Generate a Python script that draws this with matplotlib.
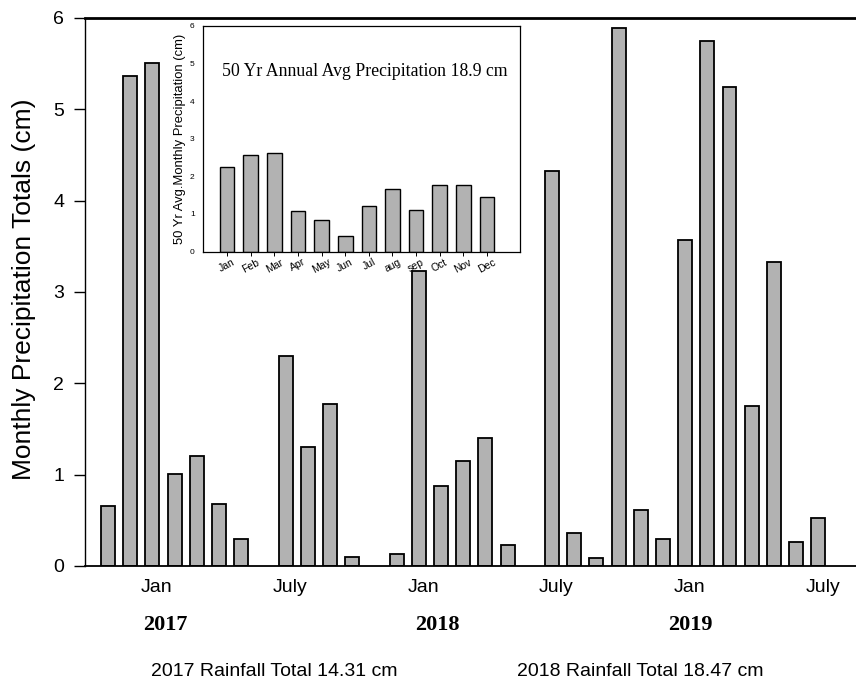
import numpy as np
import matplotlib.pyplot as plt

# Monthly totals, Nov 2016 .. Jul 2019 (NaN = no bar drawn)
month_index = np.arange(33)
monthly_cm = [0.66, 5.36, 5.51, 1.01, 1.20, 0.68, 0.30, np.nan, 2.30, 1.30, 1.77, 0.10,
              np.nan, 0.13, 3.23, 0.88, 1.15, 1.40, 0.23, np.nan, 4.32, 0.36, 0.09, 5.89,
              0.61, 0.30, 3.57, 5.75, 5.25, 1.75, 3.33, 0.26, 0.53]

tick_months = [2, 8, 14, 20, 26, 32]
tick_labels = ['Jan', 'July', 'Jan', 'July', 'Jan', 'July']

years = ['2017', '2018', '2019']
year_x = [165, 437, 690]   # pixel positions of the year captions

# 50-year average by calendar month
avg_months = ['Jan', 'Feb', 'Mar', 'Apr', 'May', 'Jun', 'Jul', 'aug', 'sep', 'Oct', 'Nov', 'Dec']
avg_cm = [2.25, 2.58, 2.62, 1.08, 0.83, 0.42, 1.22, 1.65, 1.11, 1.76, 1.76, 1.44]

W, H = 856, 685
fig = plt.figure(figsize=(W / 100, H / 100), dpi=100)

sans = 'Liberation Sans'
serif = 'Liberation Serif'
bar_gray = '#b2b2b2'

# main chart
ax = fig.add_axes([85 / W, 1 - 566 / H, (W - 85) / W, (566 - 18) / H])
vals = np.array(monthly_cm, dtype=float)
ok = ~np.isnan(vals)
ax.bar(month_index[ok], vals[ok], width=0.63, color=bar_gray, edgecolor='black', linewidth=1.3)
ax.set_xlim(-1.04, 33.7)
ax.set_ylim(0, 6)
ax.set_yticks(range(7))
ax.set_xticks(np.array(tick_months) + 0.2)
ax.set_xticklabels(tick_labels, fontfamily=sans, fontsize=14)
ax.tick_params(axis='x', length=0, pad=9)
ax.tick_params(axis='y', direction='out', length=8, width=1, labelsize=14, pad=7)
for lab in ax.get_yticklabels():
    lab.set_fontfamily(sans)
ax.spines['right'].set_visible(False)
ax.spines['top'].set_linewidth(2.0)
ax.spines['left'].set_linewidth(1.0)
ax.spines['bottom'].set_linewidth(1.3)

fig.text(24 / W, 1 - 289 / H, 'Monthly Precipitation Totals (cm)', rotation=90,
         fontfamily=sans, fontsize=19, ha='center', va='center')

for yr, x in zip(years, year_x):
    fig.text(x / W, 1 - 625 / H, yr, fontfamily=serif, fontweight='bold', fontsize=16,
             ha='center', va='center')

fig.text(274 / W, 1 - 672 / H, '2017 Rainfall Total 14.31 cm', fontfamily=sans, fontsize=14,
         ha='center', va='center')
fig.text(640 / W, 1 - 672 / H, '2018 Rainfall Total 18.47 cm', fontfamily=sans, fontsize=14,
         ha='center', va='center')

# inset: long-term monthly averages
ins = fig.add_axes([203 / W, 1 - 251.5 / H, (520 - 203) / W, (251.5 - 26) / H])
pos = np.arange(len(avg_months))
ins.bar(pos, avg_cm, width=0.62, color=bar_gray, edgecolor='black', linewidth=1.0)
ins.set_xlim(-1.02, 12.4)
ins.set_ylim(0, 6)
ins.set_yticks(range(7))
ins.set_xticks(pos)
ins.set_xticklabels(avg_months, rotation=28, fontfamily=sans, fontsize=7.5)
ins.tick_params(axis='x', length=3, width=0.7, pad=1)
ins.tick_params(axis='y', length=0, labelsize=6, pad=6)
for lab in ins.get_yticklabels():
    lab.set_fontfamily(sans)
ins.set_ylabel('50 Yr Avg.Monthly Precipitation (cm)', fontfamily=sans, fontsize=9.4, labelpad=3)
for s in ins.spines.values():
    s.set_linewidth(0.9)
ins.text(0.06, 0.80, '50 Yr Annual Avg Precipitation 18.9 cm', transform=ins.transAxes,
         fontfamily=serif, fontsize=12.8, va='center', ha='left')

fig.savefig('out.png', dpi=100)
